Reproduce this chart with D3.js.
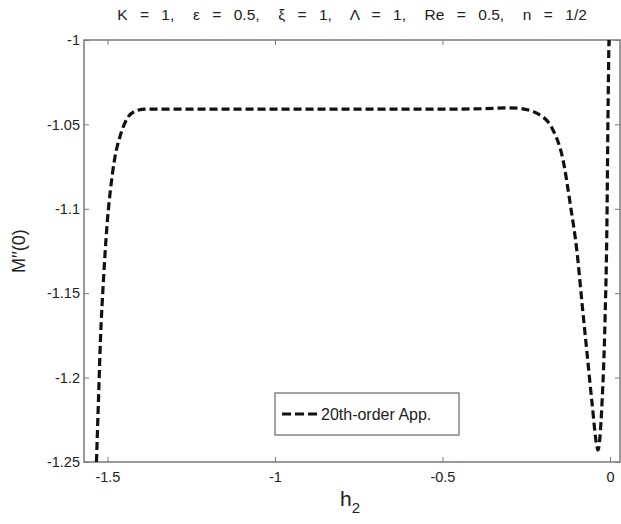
<!DOCTYPE html>
<html><head><meta charset="utf-8">
<script src="https://cdn.jsdelivr.net/npm/d3@7"></script>
<style>body{margin:0;background:#fff}svg{display:block}text{font-family:"Liberation Sans",Arial,sans-serif}</style>
</head><body>
<svg id="c" width="621" height="524"></svg>
<script>
const h2 = [-1.5328,-1.5268,-1.5209,-1.5119,-1.5,-1.4911,-1.4791,-1.4612,-1.4403,-1.4165,-1.3867,-1.3,-1.1,-0.9,-0.7,-0.5,-0.38,-0.3,-0.27,-0.2,-0.17,-0.14,-0.119,-0.098,-0.0834,-0.0685,-0.0535,-0.0386,-0.036,-0.0237,-0.0147,-0.0089,-0.006,-0.003];
const Mpp = [-1.25,-1.2133,-1.1777,-1.1422,-1.1066,-1.0889,-1.0711,-1.0563,-1.0462,-1.0421,-1.0409,-1.0410,-1.0410,-1.0410,-1.0410,-1.0410,-1.0407,-1.0402,-1.0405,-1.0456,-1.0533,-1.0711,-1.0966,-1.1262,-1.1558,-1.1854,-1.2150,-1.2411,-1.2429,-1.2150,-1.1659,-1.1066,-1.0474,-1.0];
const xTicks = [-1.5,-1,-0.5,0];
const xTickLabels = ["-1.5","-1","-0.5","0"];
const yTicks = [-1.25,-1.2,-1.15,-1.1,-1.05,-1];
const yTickLabels = ["-1.25","-1.2","-1.15","-1.1","-1.05","-1"];
const titleText = "K  =  1,   \u03b5  =  0.5,   \u03be  =  1,   \u039b  =  1,   Re  =  0.5,   n  =  1/2";
const legendLabel = "20th-order App.";

const svg = d3.select("#c");
const L=84,R=620,T=40,B=462;
const x = d3.scaleLinear().domain([-1.57,0.03]).range([L,R]);
const y = d3.scaleLinear().domain([-1.25,-1]).range([B,T]);
const axisCol="#7a7a7a";

svg.append("clipPath").attr("id","pc").append("rect").attr("x",L).attr("y",T).attr("width",R-L).attr("height",B-T);

const tl=5;
const gx = svg.append("g").attr("transform",`translate(0,${B})`)
  .call(d3.axisBottom(x).tickValues(xTicks).tickFormat((d,i)=>xTickLabels[i]).tickSizeInner(-tl).tickSizeOuter(0).tickPadding(10));
const gxt = svg.append("g").attr("transform",`translate(0,${T})`)
  .call(d3.axisTop(x).tickValues(xTicks).tickFormat("").tickSizeInner(-tl).tickSizeOuter(0));
const gy = svg.append("g").attr("transform",`translate(${L},0)`)
  .call(d3.axisLeft(y).tickValues(yTicks).tickFormat((d,i)=>yTickLabels[i]).tickSizeInner(-tl).tickSizeOuter(0).tickPadding(4));
const gyr = svg.append("g").attr("transform",`translate(${R},0)`)
  .call(d3.axisRight(y).tickValues(yTicks).tickFormat("").tickSizeInner(-tl).tickSizeOuter(0));
[gx,gxt,gy,gyr].forEach(g=>{
  g.select(".domain").remove();
  g.selectAll(".tick line").attr("stroke",axisCol);
  g.selectAll("text").attr("fill","#222").style("font-size","14.5px").style("font-family","Liberation Sans, Arial, sans-serif");
});
svg.append("rect").attr("x",L).attr("y",T).attr("width",R-L).attr("height",B-T)
  .attr("fill","none").attr("stroke",axisCol).attr("stroke-width",1.5);

const line = d3.line().x((d,i)=>x(h2[i])).y((d,i)=>y(Mpp[i])).curve(d3.curveMonotoneX);
svg.append("path").datum(Mpp).attr("d",line).attr("clip-path","url(#pc)")
  .attr("fill","none").attr("stroke","#111").attr("stroke-width",3.2).attr("stroke-dasharray","8,4");

const lg = svg.append("g");
lg.append("rect").attr("x",275).attr("y",393).attr("width",184).attr("height",42)
  .attr("fill","#fff").attr("stroke","#666").attr("stroke-width",1.2);
lg.append("line").attr("x1",282).attr("x2",318).attr("y1",414).attr("y2",414)
  .attr("stroke","#111").attr("stroke-width",3.2).attr("stroke-dasharray","9,4");
lg.append("text").attr("x",321).attr("y",420).text(legendLabel).style("font-size","16px").attr("fill","#222");

svg.append("text").attr("x",(L+R)/2).attr("y",20).attr("text-anchor","middle")
  .style("font-size","15.5px").style("white-space","pre").style("word-spacing","1.9px").attr("fill","#222").text(titleText);

const xl = svg.append("text").attr("x",350).attr("y",506).attr("text-anchor","middle").style("font-size","21px").attr("fill","#222");
xl.append("tspan").text("h");
xl.append("tspan").attr("dy",7).style("font-size","15px").text("2");
svg.append("text").attr("transform","translate(25,251) rotate(-90)").attr("text-anchor","middle")
  .style("font-size","18px").attr("fill","#222").text("M\u2032\u2032(0)");
</script>
</body></html>
